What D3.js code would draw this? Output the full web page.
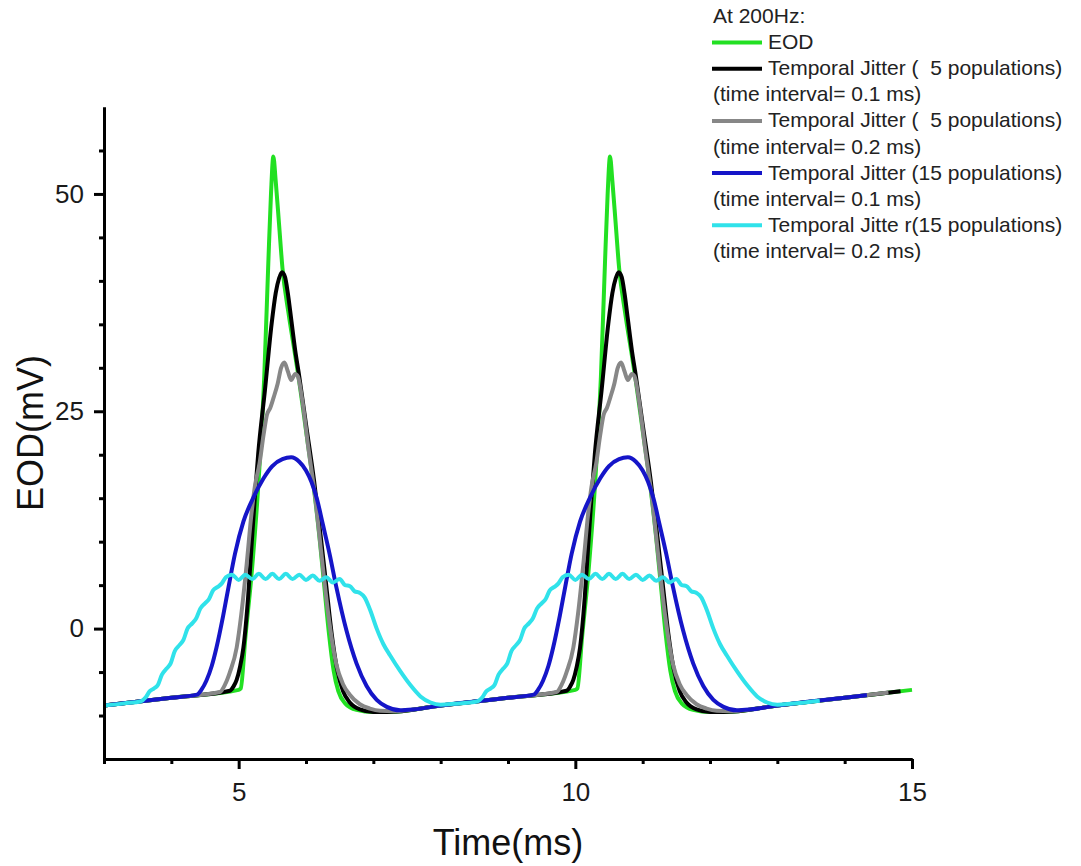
<!DOCTYPE html>
<html>
<head>
<meta charset="utf-8">
<script src="https://cdn.jsdelivr.net/npm/d3@7"></script>
<style>
  html, body { margin: 0; padding: 0; background: #fff; }
  svg { display: block; font-family: "Liberation Sans", Arial, sans-serif; }
</style>
</head>
<body>
<svg id="chart" width="1081" height="866"></svg>
<script>
// EOD waveform at 200 Hz and its temporally jittered versions: [time (ms), EOD (mV)]
const eodTrace = [
  [3.0,-8.85],[4.0,-7.95],[5.0,-7.05],[5.03,-6.9],[5.1,-1.0],[5.2,7.0],[5.3,17.5],[5.38,29.0],[5.44,42.0],[5.48,50.0],
  [5.515,54.3],[5.55,51.5],[5.6,46.5],[5.65,41.5],[5.74,36.3],[5.84,31.4],[5.9,28.4],[6.0,22.8],[6.11,16.6],[6.2,10.5],
  [6.27,5.0],[6.34,-0.5],[6.41,-4.8],[6.48,-7.2],[6.58,-8.6],[6.75,-9.35],[7.0,-9.6],[7.2,-9.6],[8.0,-8.85],[9.0,-7.95],
  [10.0,-7.05],[10.03,-6.9],[10.1,-1.0],[10.2,7.0],[10.3,17.5],[10.38,29.0],[10.44,42.0],[10.48,50.0],[10.515,54.3],[10.55,51.5],
  [10.6,46.5],[10.65,41.5],[10.74,36.3],[10.84,31.4],[10.9,28.4],[11.0,22.8],[11.11,16.6],[11.2,10.5],[11.27,5.0],[11.34,-0.5],
  [11.41,-4.8],[11.48,-7.2],[11.58,-8.6],[11.75,-9.35],[12.0,-9.6],[12.2,-9.6],[13.0,-8.85],[14.0,-7.95],[15.0,-7.05]
];

const jitter5Fine = [
  [3.0,-8.85],[4.0,-7.95],[4.87,-7.15],[4.92,-6.7],[4.97,-5.9],[5.02,-4.4],[5.07,-2.2],[5.14,3.6],[5.19,9.4],[5.24,15.1],
  [5.29,20.1],[5.39,27.4],[5.49,35.1],[5.55,38.6],[5.6,40.3],[5.645,41.0],[5.69,40.4],[5.73,38.6],[5.78,35.6],[5.84,32.0],
  [5.9,29.0],[6.0,23.5],[6.12,17.0],[6.22,10.5],[6.3,5.0],[6.38,-0.5],[6.46,-4.6],[6.55,-7.2],[6.65,-8.5],[6.8,-9.3],
  [7.0,-9.6],[7.2,-9.6],[8.0,-8.85],[9.0,-7.95],[9.87,-7.15],[9.92,-6.7],[9.97,-5.9],[10.02,-4.4],[10.07,-2.2],[10.14,3.6],
  [10.19,9.4],[10.24,15.1],[10.29,20.1],[10.39,27.4],[10.49,35.1],[10.55,38.6],[10.6,40.3],[10.645,41.0],[10.69,40.4],[10.73,38.6],
  [10.78,35.6],[10.84,32.0],[10.9,29.0],[11.0,23.5],[11.12,17.0],[11.22,10.5],[11.3,5.0],[11.38,-0.5],[11.46,-4.6],[11.55,-7.2],
  [11.65,-8.5],[11.8,-9.3],[12.0,-9.6],[12.2,-9.6],[13.0,-8.85],[14.0,-7.95],[14.83,-7.2]
];

const jitter5Coarse = [
  [3.0,-8.85],[4.0,-7.95],[4.72,-7.3],[4.8,-6.4],[4.87,-5.0],[4.97,-2.2],[5.04,1.7],[5.12,7.5],[5.19,13.2],[5.24,16.3],
  [5.31,19.0],[5.37,22.3],[5.42,24.6],[5.47,25.4],[5.52,26.6],[5.58,28.2],[5.63,30.0],[5.68,30.6],[5.73,29.6],[5.78,28.6],
  [5.84,29.3],[5.88,29.0],[5.94,26.5],[6.04,20.5],[6.13,15.5],[6.23,8.5],[6.33,1.7],[6.45,-4.1],[6.55,-6.4],[6.65,-7.6],
  [6.8,-8.7],[6.95,-9.2],[7.1,-9.45],[7.3,-9.5],[8.0,-8.85],[9.0,-7.95],[9.72,-7.3],[9.8,-6.4],[9.87,-5.0],[9.97,-2.2],
  [10.04,1.7],[10.12,7.5],[10.19,13.2],[10.24,16.3],[10.31,19.0],[10.37,22.3],[10.42,24.6],[10.47,25.4],[10.52,26.6],[10.58,28.2],
  [10.63,30.0],[10.68,30.6],[10.73,29.6],[10.78,28.6],[10.84,29.3],[10.88,29.0],[10.94,26.5],[11.04,20.5],[11.13,15.5],[11.23,8.5],
  [11.33,1.7],[11.45,-4.1],[11.55,-6.4],[11.65,-7.6],[11.8,-8.7],[11.95,-9.2],[12.1,-9.45],[12.3,-9.5],[13.0,-8.85],[14.0,-7.95],
  [14.65,-7.35]
];

const jitter15Fine = [
  [3.0,-8.85],[4.0,-7.95],[4.38,-7.6],[4.45,-7.0],[4.52,-6.0],[4.6,-4.3],[4.67,-2.2],[4.77,1.5],[4.85,4.8],[4.945,8.6],
  [5.07,12.3],[5.22,15.1],[5.37,17.3],[5.5,18.7],[5.65,19.5],[5.78,19.7],[5.9,19.2],[6.0,18.2],[6.08,16.9],[6.16,15.0],
  [6.25,12.0],[6.35,8.6],[6.45,4.8],[6.6,-0.2],[6.75,-4.0],[6.9,-6.6],[7.05,-8.2],[7.2,-9.0],[7.4,-9.4],[7.6,-9.3],
  [8.0,-8.85],[9.0,-7.95],[9.38,-7.6],[9.45,-7.0],[9.52,-6.0],[9.6,-4.3],[9.67,-2.2],[9.77,1.5],[9.85,4.8],[9.945,8.6],
  [10.07,12.3],[10.22,15.1],[10.37,17.3],[10.5,18.7],[10.65,19.5],[10.78,19.7],[10.9,19.2],[11.0,18.2],[11.08,16.9],[11.16,15.0],
  [11.25,12.0],[11.35,8.6],[11.45,4.8],[11.6,-0.2],[11.75,-4.0],[11.9,-6.6],[12.05,-8.2],[12.2,-9.0],[12.4,-9.4],[12.6,-9.3],
  [13.0,-8.85],[14.0,-7.95],[14.33,-7.65]
];

const jitter15Coarse = [
  [3.0,-8.85],[3.3,-8.6],[3.55,-8.35],[3.62,-7.9],[3.68,-7.2],[3.74,-6.9],[3.8,-6.5],[3.86,-5.3],[3.93,-4.6],[3.99,-4.0],
  [4.05,-2.6],[4.12,-1.9],[4.18,-1.3],[4.24,0.0],[4.31,0.6],[4.37,1.2],[4.43,2.3],[4.5,2.9],[4.56,3.4],[4.62,4.4],
  [4.69,4.8],[4.75,5.2],[4.81,5.9],[4.9,6.2],[5.0,5.6],[5.1,6.2],[5.2,5.7],[5.3,6.3],[5.4,5.7],[5.5,6.3],
  [5.6,5.7],[5.7,6.3],[5.8,5.7],[5.9,6.2],[6.0,5.6],[6.1,6.1],[6.2,5.5],[6.3,5.9],[6.4,5.3],[6.5,5.7],
  [6.58,5.0],[6.65,4.9],[6.72,4.3],[6.8,4.1],[6.87,3.6],[6.95,2.2],[7.05,0.0],[7.15,-1.8],[7.25,-3.1],[7.4,-4.9],
  [7.55,-6.5],[7.7,-7.8],[7.85,-8.5],[8.0,-8.75],[8.2,-8.65],[8.55,-8.35],[8.62,-7.9],[8.68,-7.2],[8.74,-6.9],[8.8,-6.5],
  [8.86,-5.3],[8.93,-4.6],[8.99,-4.0],[9.05,-2.6],[9.12,-1.9],[9.18,-1.3],[9.24,0.0],[9.31,0.6],[9.37,1.2],[9.43,2.3],
  [9.5,2.9],[9.56,3.4],[9.62,4.4],[9.69,4.8],[9.75,5.2],[9.81,5.9],[9.9,6.2],[10.0,5.6],[10.1,6.2],[10.2,5.7],
  [10.3,6.3],[10.4,5.7],[10.5,6.3],[10.6,5.7],[10.7,6.3],[10.8,5.7],[10.9,6.2],[11.0,5.6],[11.1,6.1],[11.2,5.5],
  [11.3,5.9],[11.4,5.3],[11.5,5.7],[11.58,5.0],[11.65,4.9],[11.72,4.3],[11.8,4.1],[11.87,3.6],[11.95,2.2],[12.05,0.0],
  [12.15,-1.8],[12.25,-3.1],[12.4,-4.9],[12.55,-6.5],[12.7,-7.8],[12.85,-8.5],[13.0,-8.75],[13.2,-8.65],[13.63,-8.3]
];

const seriesData = [eodTrace, jitter5Fine, jitter5Coarse, jitter15Fine, jitter15Coarse];
const seriesColors = ["#22e022", "#000000", "#878787", "#1515c8", "#30e2ea"];
const seriesLabels = [
  "EOD",
  "Temporal Jitter (  5 populations)",
  "Temporal Jitter (  5 populations)",
  "Temporal Jitter (15 populations)",
  "Temporal Jitte r(15 populations)"
];
const seriesNotes = [null, "(time interval= 0.1 ms)", "(time interval= 0.2 ms)", "(time interval= 0.1 ms)", "(time interval= 0.2 ms)"];
const legendTitle = "At 200Hz:";

const xMajorTicks = [5, 10, 15];
const xMinorTicks = [3, 4, 6, 7, 8, 9, 11, 12, 13, 14];
const yMajorTicks = [0, 25, 50];
const yMinorTicks = [-10, -5, 5, 10, 15, 20, 30, 35, 40, 45, 55];
const xTitle = "Time(ms)";
const yTitle = "EOD(mV)";

const svg = d3.select("#chart");
const x = d3.scaleLinear().domain([3, 15]).range([104, 912]);
const y = d3.scaleLinear().domain([-15, 60]).range([759, 107]);

// traces
const line = d3.line().x(d => x(d[0])).y(d => y(d[1])).curve(d3.curveMonotoneX);
svg.append("g").selectAll("path")
  .data(seriesData)
  .join("path")
  .attr("d", d => line(d))
  .attr("fill", "none")
  .attr("stroke", (d, i) => seriesColors[i])
  .attr("stroke-width", 4)
  .attr("stroke-linejoin", "round")
  .attr("stroke-linecap", "butt");

// axes
function styleAxis(g) {
  g.selectAll("path.domain").attr("stroke", "#000").attr("stroke-width", 3);
  g.selectAll(".tick line").attr("stroke", "#000").attr("stroke-width", 3);
  g.selectAll(".tick text").attr("fill", "#1a1a1a").style("font-size", "26px")
    .style("font-family", "'Liberation Sans', Arial, sans-serif");
}
svg.append("g").attr("transform", `translate(0,${y(-15)})`)
  .call(d3.axisBottom(x).tickValues(xMinorTicks).tickSize(5).tickSizeOuter(0).tickFormat(""))
  .call(styleAxis);
svg.append("g").attr("transform", `translate(0,${y(-15)})`)
  .call(d3.axisBottom(x).tickValues(xMajorTicks).tickSize(10).tickSizeOuter(0).tickPadding(14))
  .call(styleAxis);
svg.append("g").attr("transform", `translate(${x(3)},0)`)
  .call(d3.axisLeft(y).tickValues(yMinorTicks).tickSize(5).tickSizeOuter(0).tickFormat(""))
  .call(styleAxis);
svg.append("g").attr("transform", `translate(${x(3)},0)`)
  .call(d3.axisLeft(y).tickValues(yMajorTicks).tickSize(10).tickSizeOuter(0).tickPadding(10))
  .call(styleAxis);

// axis titles
svg.append("text")
  .attr("x", (x(3) + x(15)) / 2).attr("y", 855)
  .attr("text-anchor", "middle")
  .style("font-size", "36px").attr("fill", "#111")
  .text(xTitle);
svg.append("text")
  .attr("transform", `translate(43,${(y(-15) + y(60)) / 2}) rotate(-90)`)
  .attr("text-anchor", "middle")
  .style("font-size", "36px").attr("fill", "#111")
  .text(yTitle);

// legend
const legend = svg.append("g").style("font-size", "21px").attr("fill", "#222");
const rowH = 26.1, row0 = 23;
legend.append("text").attr("x", 713).attr("y", row0).text(legendTitle);
let row = 1;
seriesLabels.forEach((label, i) => {
  const base = row0 + rowH * row;
  legend.append("line")
    .attr("x1", 712).attr("x2", 762)
    .attr("y1", base - 6.5).attr("y2", base - 6.5)
    .attr("stroke", seriesColors[i]).attr("stroke-width", 4);
  legend.append("text").attr("x", 768).attr("y", base)
    .style("white-space", "pre").text(label);
  row++;
  if (seriesNotes[i]) {
    legend.append("text").attr("x", 713).attr("y", row0 + rowH * row)
      .style("white-space", "pre").text(seriesNotes[i]);
    row++;
  }
});
</script>
</body>
</html>
